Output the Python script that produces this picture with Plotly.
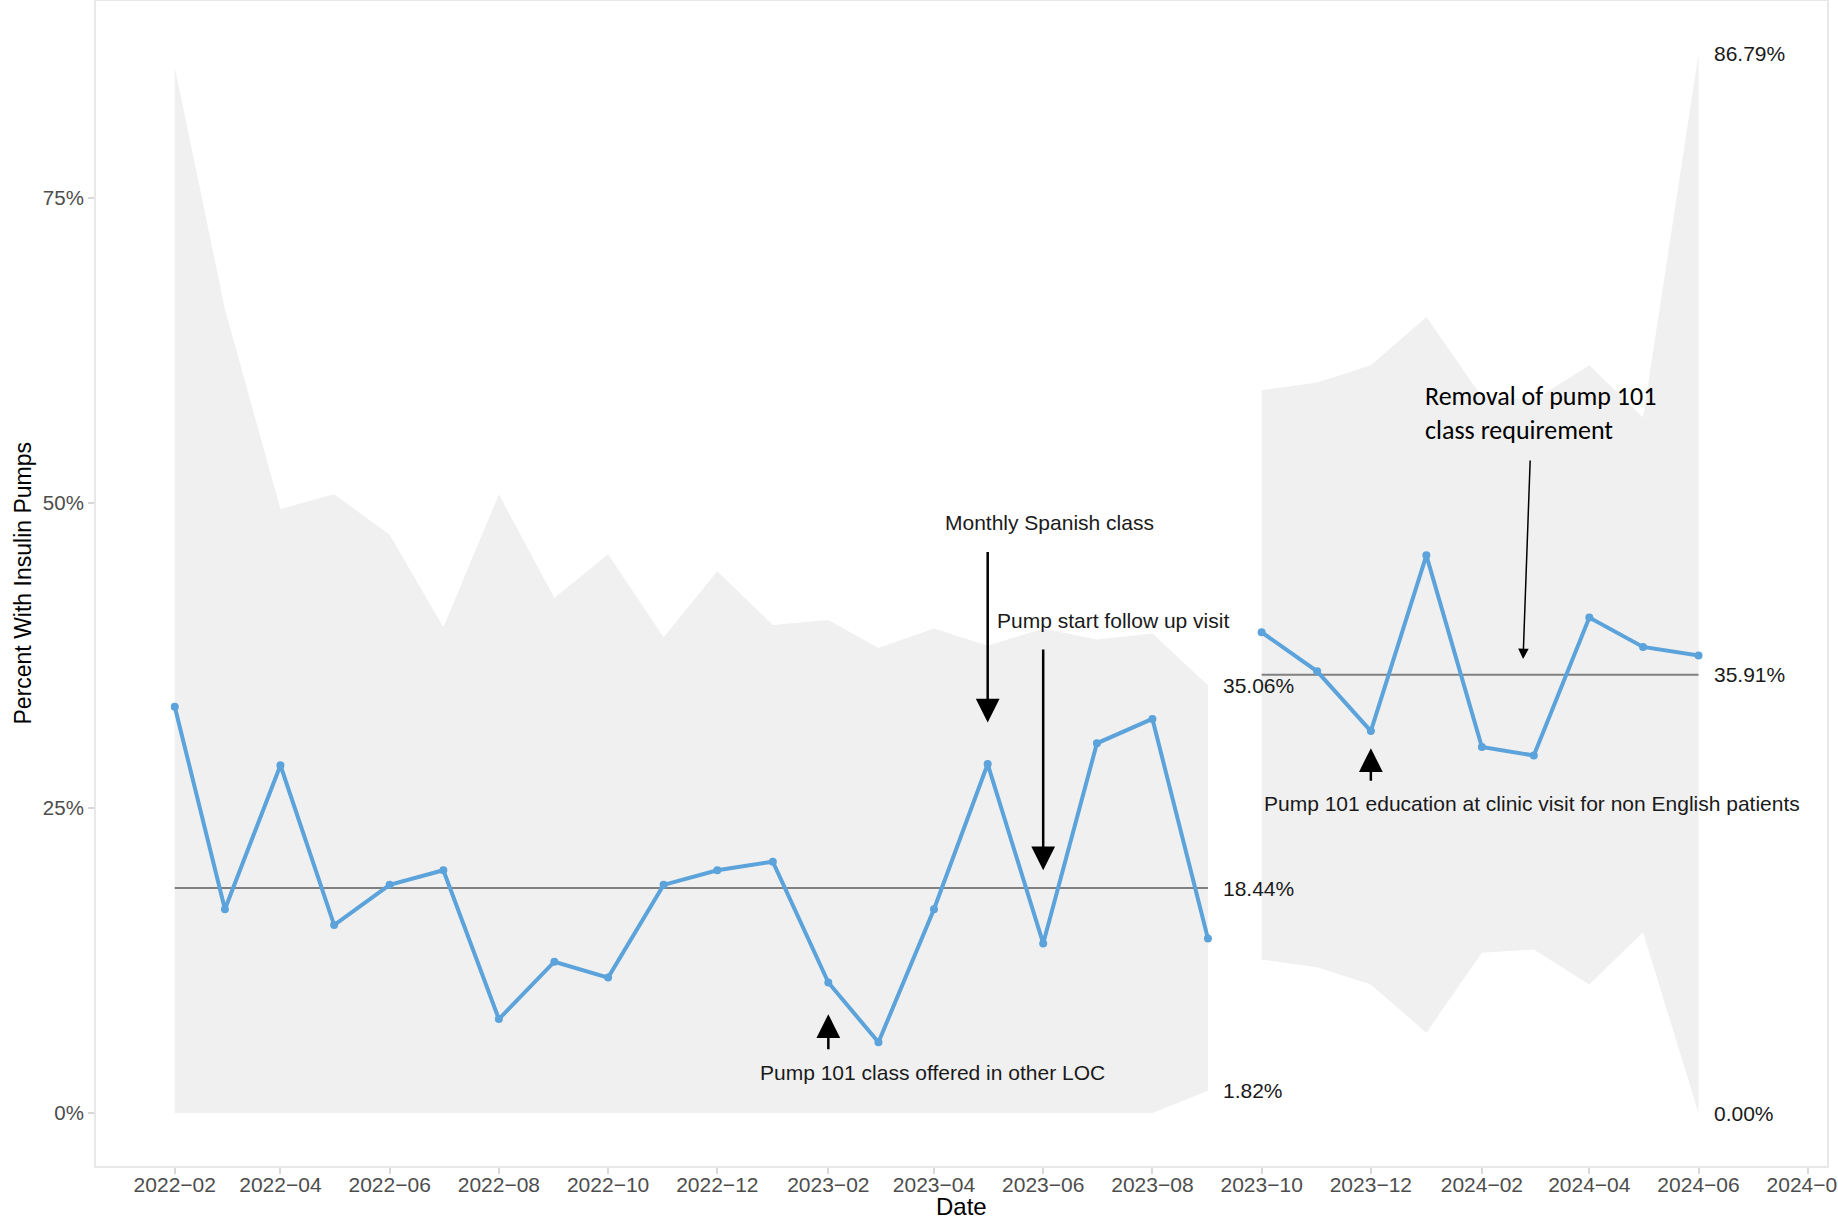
import plotly.graph_objects as go

# ---------------- data ----------------
months1 = ["2022-02-01", "2022-03-01", "2022-04-01", "2022-05-01", "2022-06-01",
           "2022-07-01", "2022-08-01", "2022-09-01", "2022-10-01", "2022-11-01",
           "2022-12-01", "2023-01-01", "2023-02-01", "2023-03-01", "2023-04-01",
           "2023-05-01", "2023-06-01", "2023-07-01", "2023-08-01", "2023-09-01"]
pct1 = [33.3, 16.7, 28.5, 15.4, 18.7, 19.9, 7.7, 12.4, 11.1, 18.7,
        19.9, 20.6, 10.7, 5.8, 16.7, 28.6, 13.9, 30.3, 32.3, 14.3]
ucl1 = [85.7, 65.9, 49.5, 50.7, 47.4, 39.8, 50.7, 42.2, 45.8, 39.0,
        44.4, 40.0, 40.4, 38.1, 39.7, 38.3, 39.7, 38.8, 39.3, 35.06]
lcl1 = [0.0, 0.0, 0.0, 0.0, 0.0, 0.0, 0.0, 0.0, 0.0, 0.0,
        0.0, 0.0, 0.0, 0.0, 0.0, 0.0, 0.0, 0.0, 0.0, 1.82]
cl1 = 18.44

months2 = ["2023-10-01", "2023-11-01", "2023-12-01", "2024-01-01", "2024-02-01",
           "2024-03-01", "2024-04-01", "2024-05-01", "2024-06-01"]
pct2 = [39.4, 36.2, 31.3, 45.7, 30.0, 29.3, 40.6, 38.2, 37.5]
ucl2 = [59.24, 59.87, 61.29, 65.24, 58.69, 58.42, 61.29, 57.0, 86.79]
lcl2 = [12.58, 11.95, 10.53, 6.58, 13.13, 13.40, 10.53, 14.82, 0.0]
cl2 = 35.91

y_ticks = [0, 25, 50, 75]
y_tick_labels = ["0%", "25%", "50%", "75%"]

# events: text, arrow date, arrow tail value, arrow tip value, text value, text shift
event_texts = ["Monthly Spanish class", "Pump start follow up visit",
               "Pump 101 class offered in other LOC",
               "Pump 101 education at clinic visit for non English patients"]
event_dates = ["2023-05-01", "2023-06-01", "2023-02-01", "2023-12-01"]
event_tail = [46.1, 38.1, 5.1, 27.1]
event_tip = [32.0, 19.9, 8.1, 29.9]
event_text_y = [48.4, 40.4, 3.36, 25.36]
event_text_dx = [62, 70, 104, 161]

removal_text = "Removal of pump 101<br>class requirement"

# ---------------- figure ----------------
BAND = "#f0f0f0"
BLUE = "#5ba3da"
FONT = "Liberation Sans, Arial, sans-serif"

fig = go.Figure()

for months, ucl, lcl in ((months1, ucl1, lcl1), (months2, ucl2, lcl2)):
    fig.add_trace(go.Scatter(x=months, y=ucl, mode="lines",
                             line=dict(width=0, color=BAND),
                             hoverinfo="skip", showlegend=False))
    fig.add_trace(go.Scatter(x=months, y=lcl, mode="lines",
                             line=dict(width=0, color=BAND),
                             fill="tonexty", fillcolor=BAND,
                             hoverinfo="skip", showlegend=False))

for months, cl in ((months1, cl1), (months2, cl2)):
    fig.add_trace(go.Scatter(x=[months[0], months[-1]], y=[cl, cl], mode="lines",
                             line=dict(width=2, color="#808080"),
                             hoverinfo="skip", showlegend=False))

for months, pct in ((months1, pct1), (months2, pct2)):
    fig.add_trace(go.Scatter(x=months, y=pct, mode="lines+markers",
                             line=dict(width=4, color=BLUE),
                             marker=dict(size=8, color=BLUE),
                             showlegend=False))

annotations = []

# limit / centre labels
for months, vals in ((months1, [ucl1[-1], cl1, lcl1[-1]]),
                     (months2, [ucl2[-1], cl2, lcl2[-1]])):
    for v in vals:
        annotations.append(dict(x=months[-1], y=v, xref="x", yref="y",
                                text=f"{v:.2f}%", showarrow=False,
                                xanchor="left", yanchor="middle", xshift=13,
                                font=dict(family=FONT, size=21, color="#1a1a1a")))

# event arrows and texts
for txt, d, tail, tip, ty, dx in zip(event_texts, event_dates, event_tail,
                                     event_tip, event_text_y, event_text_dx):
    annotations.append(dict(x=d, y=tip, ax=d, ay=tail, xref="x", yref="y",
                            axref="x", ayref="y", text="", showarrow=True,
                            arrowhead=2, arrowsize=1.9, arrowwidth=2.5,
                            arrowcolor="black"))
    annotations.append(dict(x=d, y=ty, xref="x", yref="y", text=txt,
                            showarrow=False, xanchor="center", yanchor="middle",
                            xshift=dx,
                            font=dict(family=FONT, size=21, color="#1a1a1a")))

# removal annotation
annotations.append(dict(x="2024-02-24", y=37.2, ax="2024-02-28", ay=53.6,
                        xref="x", yref="y", axref="x", ayref="y", text="",
                        showarrow=True, arrowhead=2, arrowsize=1.4,
                        arrowwidth=1.5, arrowcolor="black"))
annotations.append(dict(x="2023-12-30", y=57.4, xref="x", yref="y",
                        text=removal_text, showarrow=False, xanchor="left",
                        yanchor="middle", align="left",
                        font=dict(family="Carlito, Calibri, Lato, sans-serif",
                                  size=26, color="black")))

# axis titles
annotations.append(dict(x=0, y=0.5, xref="paper", yref="paper",
                        text="Percent With Insulin Pumps", textangle=-90,
                        showarrow=False, xanchor="center", yanchor="middle",
                        xshift=-74, font=dict(family=FONT, size=23, color="black")))
annotations.append(dict(x=0.5, y=0, xref="paper", yref="paper", text="Date",
                        showarrow=False, xanchor="center", yanchor="middle",
                        yshift=-40, font=dict(family=FONT, size=24, color="black")))

fig.update_layout(
    width=1838, height=1219,
    margin=dict(l=96, r=11, t=1, b=53, autoexpand=False),
    paper_bgcolor="white", plot_bgcolor="white",
    showlegend=False,
    annotations=annotations,
    xaxis=dict(type="date", range=["2021-12-19", "2024-08-11 18:00"],
               tick0="2022-02-01", dtick="M2", tickformat="%Y\u2212%m",
               ticks="outside", ticklen=6, tickwidth=2, tickcolor="#d9d9d9",
               ticklabelstandoff=-7, ticklabeloverflow="allow", automargin=False,
               showline=True, linecolor="#e8e8e8", linewidth=2, mirror=True,
               showgrid=False, zeroline=False,
               tickfont=dict(family=FONT, size=21, color="#4d4d4d")),
    yaxis=dict(range=[-4.34, 91.13], tickvals=y_ticks, ticktext=y_tick_labels,
               ticks="outside", ticklen=6, tickwidth=2, tickcolor="#d9d9d9",
               automargin=False,
               showline=True, linecolor="#e8e8e8", linewidth=2, mirror=True,
               showgrid=False, zeroline=False,
               tickfont=dict(family=FONT, size=20.5, color="#4d4d4d")),
)

fig.write_html("out.html")
